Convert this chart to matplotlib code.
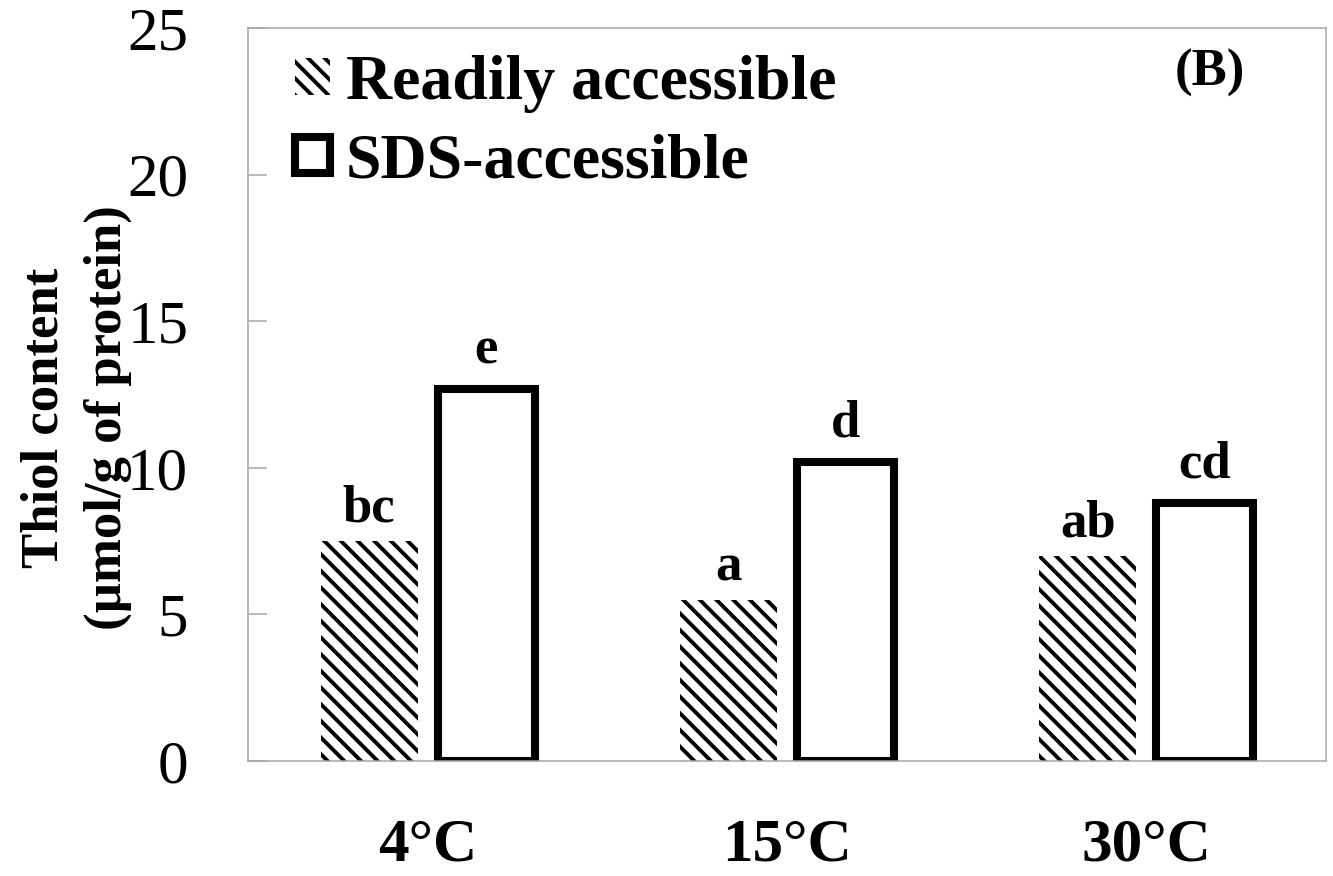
import numpy as np
import matplotlib
matplotlib.use('Agg')
import matplotlib.pyplot as plt

plt.rcParams['font.family'] = 'Liberation Serif'
plt.rcParams['hatch.linewidth'] = 2.8

temps = ['4°C', '15°C', '30°C']
readily = [7.5, 5.5, 7.0]
sds = [12.7, 10.2, 8.8]
readily_letters = ['bc', 'a', 'ab']
sds_letters = ['e', 'd', 'cd']

x = np.arange(len(temps))
w = 0.27
off = 0.163
grey = '#a6a6a6'

fig = plt.figure(figsize=(13.33, 8.76), dpi=100)
ax = fig.add_axes([0.186, 0.1313, 0.8087, 0.8368])

ax.bar(x - off, readily, w, color='white', edgecolor='black', hatch='\\\\',
       linewidth=0, label='Readily accessible')
ax.bar(x + off, sds, w, color='white', edgecolor='black', linewidth=5.8,
       label='SDS-accessible')

# significance letters above each bar
for xi, h, s in zip(x - off, readily, readily_letters):
    ax.annotate(s, (xi, h), xytext=(0, 14), textcoords='offset points',
                ha='center', va='baseline', fontsize=38, fontweight='bold')
for xi, h, s in zip(x + off, sds, sds_letters):
    ax.annotate(s, (xi, h), xytext=(0, 18), textcoords='offset points',
                ha='center', va='baseline', fontsize=38, fontweight='bold')

ax.set_xlim(-0.5, 2.5)
ax.set_ylim(0, 25)
ax.set_yticks(range(0, 26, 5))
ax.set_xticks(x, temps, fontsize=44, fontweight='bold')
ax.tick_params(axis='x', length=0, pad=41)
ax.tick_params(axis='y', direction='in', length=14, width=1.1, color=grey,
               labelsize=44, pad=43)
for sp in ax.spines.values():
    sp.set_color(grey)
    sp.set_linewidth(1.1)

ax.legend(loc='upper left', bbox_to_anchor=(0.0436, 0.963), frameon=False,
          prop={'weight': 'bold', 'size': 46},
          handlelength=0.55, handleheight=0.5, handletextpad=0.25,
          labelspacing=0.32, borderaxespad=0, borderpad=0)

ax.text(0.892, 0.9386, '(B)', transform=ax.transAxes, ha='center', va='center',
        fontsize=38, fontweight='bold')

fig.text(0.0574, 0.523, 'Thiol content\n(µmol/g of protein)', rotation=90,
         ha='center', va='center', multialignment='center', fontsize=38,
         fontweight='bold', linespacing=1.4)

fig.savefig('out.png', dpi=100)
